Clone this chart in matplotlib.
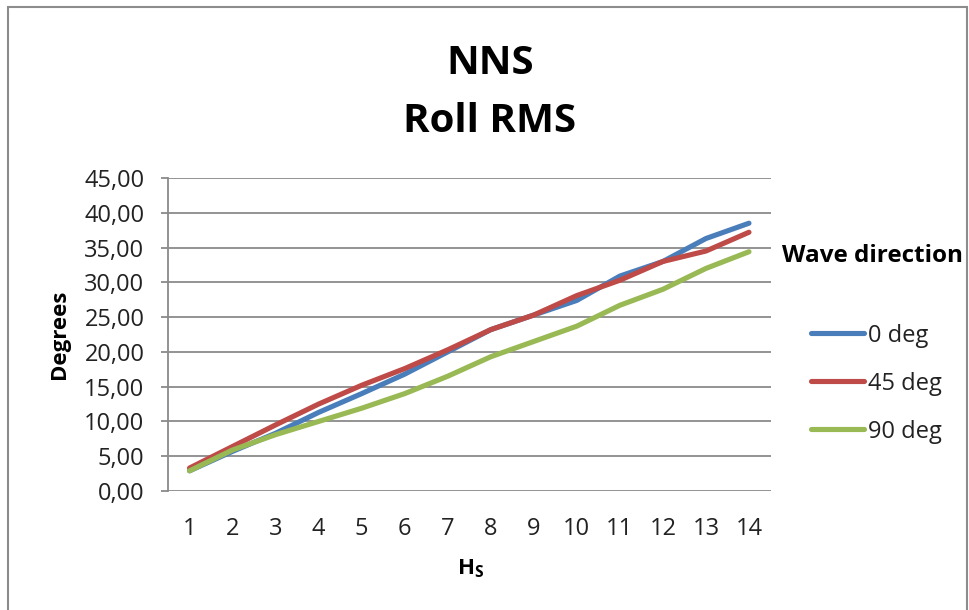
import matplotlib
matplotlib.use("Agg")
import matplotlib.pyplot as plt
from matplotlib.lines import Line2D
from matplotlib.patches import Rectangle
from matplotlib.ticker import FuncFormatter

plt.rcParams["font.family"] = ["Open Sans", "DejaVu Sans"]
plt.rcParams["mathtext.fontset"] = "custom"
plt.rcParams["mathtext.bf"] = "Open Sans:bold"
plt.rcParams["mathtext.rm"] = "Open Sans"

# Significant wave height classes
hs = list(range(1, 15))

# Roll RMS (degrees) per wave direction
roll_0deg = [2.9, 5.7, 8.3, 11.3, 14.0, 16.8, 20.0, 23.2, 25.3, 27.4, 30.9, 33.0, 36.3, 38.5]
roll_45deg = [3.3, 6.4, 9.5, 12.5, 15.2, 17.6, 20.3, 23.2, 25.3, 28.1, 30.3, 33.0, 34.5, 37.2]
roll_90deg = [2.9, 5.9, 8.1, 10.0, 11.9, 14.0, 16.5, 19.3, 21.5, 23.7, 26.7, 29.0, 32.0, 34.4]

series_labels = ["0 deg", "45 deg", "90 deg"]
series_colors = ["#4A7EBB", "#BE4B48", "#98B954"]
y_ticks = [0, 5, 10, 15, 20, 25, 30, 35, 40, 45]

W, H = 969, 610
fig = plt.figure(figsize=(W / 100, H / 100), dpi=100)
fig.patch.set_facecolor("white")

def fx(px):
    return px / W

def fy(py):
    return 1 - py / H

# outer chart border
fig.add_artist(Rectangle((fx(8), fy(640)), fx(967) - fx(8), fy(7) - fy(640),
                         transform=fig.transFigure, fill=False,
                         edgecolor="#8C8C8C", linewidth=1.5))

ax = fig.add_axes([fx(168), fy(491), fx(770.5) - fx(168), fy(178) - fy(491)])
ax.set_facecolor("white")

grid_col = "#8A8A8A"
for v in y_ticks:
    ax.axhline(v, color=grid_col, linewidth=1.3, zorder=1)

for vals, col, lab in zip([roll_0deg, roll_45deg, roll_90deg], series_colors, series_labels):
    ax.plot(hs, vals, color=col, linewidth=3.7, solid_capstyle="round",
            solid_joinstyle="round", label=lab, zorder=3)

ax.set_xlim(0.5, 14.5)
ax.set_ylim(0, 45)
ax.set_xticks(hs)
ax.set_xticklabels([str(h) for h in hs])
ax.set_yticks(y_ticks)
ax.yaxis.set_major_formatter(FuncFormatter(lambda v, p: f"{v:.2f}".replace(".", ",")))

for s in ["top", "right", "bottom"]:
    ax.spines[s].set_visible(False)
ax.spines["left"].set_color(grid_col)
ax.spines["left"].set_linewidth(1.3)

ax.tick_params(axis="y", direction="out", length=5, width=1.3, color=grid_col,
               labelsize=17, pad=12, labelcolor="#222222")
ax.tick_params(axis="x", length=0, labelsize=17, pad=19, labelcolor="#222222")

# titles and axis labels
fig.text(fx(490), fy(74), "NNS", ha="center", va="baseline",
         fontsize=29, fontweight="bold")
fig.text(fx(490), fy(132), "Roll RMS", ha="center", va="baseline",
         fontsize=29, fontweight="bold")
fig.text(fx(59), fy(334), "Degrees", ha="center", va="center", rotation=90,
         fontsize=16, fontweight="bold")
fig.text(fx(457), fy(574), r"$\mathbf{H}_{\mathbf{S}}$", ha="left", va="baseline",
         fontsize=16)

# legend
fig.text(fx(873), fy(262), "Wave direction", ha="center", va="baseline",
         fontsize=17.5, fontweight="bold")
for i, (col, lab) in enumerate(zip(series_colors, series_labels)):
    yy = 333 + 48 * i
    fig.add_artist(Line2D([fx(811), fx(864)], [fy(yy), fy(yy)], color=col,
                          linewidth=3.7, solid_capstyle="round",
                          transform=fig.transFigure))
    fig.text(fx(868), fy(yy), lab, ha="left", va="center_baseline",
             fontsize=17, color="#222222")

fig.savefig("out.png", dpi=100, facecolor="white")
